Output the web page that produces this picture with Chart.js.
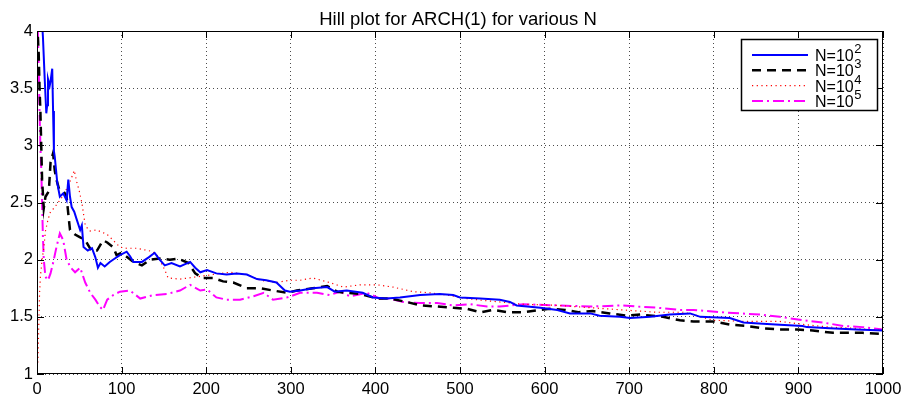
<!DOCTYPE html>
<html>
<head>
<meta charset="utf-8">
<title>Hill plot for ARCH(1)</title>
<script src="https://cdn.jsdelivr.net/npm/chart.js@4.4.1/dist/chart.umd.min.js"></script>
<style>
  html, body { margin: 0; padding: 0; background: #fff; }
  #hill { display: block; }
</style>
</head>
<body>
<canvas id="hill" width="910" height="399"></canvas>
<script>
// values (k = number of order statistics)
const seriesNames = ['N=10^2', 'N=10^3', 'N=10^4', 'N=10^5'];

const kN2 = [2,5,7,9,11,12,13,15,16,18,19,20,21,24,27,31,35,37,39,41,44,47,51,53,55,60,65,69,72,75,80,86,92,98,106,110,114,124,132,139,145,151,159,169,181,187,193,201,212,224,236,248,260,271,283,293,299,311,326,343,352,366,385,397,413,429,453,476,492,500,524,547,559,567,595,615,630,654,665,689,701,725,748,772,784,819,835,858,878,905,910,937,969,1000];
const hillN2 = [4.4,4.2,3.95,3.6,3.28,3.35,3.58,3.52,3.56,3.67,3.3,2.95,2.9,2.67,2.55,2.58,2.52,2.70,2.55,2.46,2.42,2.35,2.26,2.30,2.11,2.08,2.10,2.02,1.93,1.97,1.94,1.98,2.01,2.04,2.07,2.03,1.98,1.98,2.02,2.06,2.0,1.95,1.97,1.94,1.98,1.93,1.89,1.91,1.88,1.87,1.88,1.87,1.83,1.82,1.80,1.73,1.72,1.73,1.75,1.76,1.72,1.73,1.71,1.67,1.66,1.67,1.69,1.70,1.69,1.67,1.66,1.65,1.63,1.60,1.58,1.56,1.53,1.53,1.51,1.50,1.49,1.50,1.52,1.53,1.50,1.49,1.45,1.44,1.43,1.42,1.41,1.40,1.39,1.38];

const kN3 = [1,2,3,4,5,6,8,10,14,16,19,21,23,26,30,33,35,37,39,45,50,57,65,71,78,83,90,94,100,114,124,134,145,157,167,179,187,196,208,220,232,248,264,279,296,307,326,343,355,366,382,402,417,437,453,473,492,508,524,539,557,575,595,606,624,640,657,677,697,713,740,760,776,799,821,839,858,878,898,917,941,957,976,1000];
const hillN3 = [3.95,3.8,3.5,3.3,3.0,2.7,2.45,2.55,2.6,2.85,2.93,2.78,2.7,2.62,2.61,2.58,2.55,2.4,2.26,2.22,2.2,2.17,2.07,2.08,2.17,2.15,2.11,2.04,2.06,1.98,1.95,2.00,2.01,2.0,2.01,1.97,1.88,1.84,1.84,1.81,1.80,1.75,1.75,1.73,1.71,1.73,1.75,1.77,1.72,1.71,1.70,1.66,1.66,1.63,1.60,1.59,1.58,1.57,1.54,1.56,1.54,1.54,1.56,1.57,1.56,1.54,1.55,1.53,1.51,1.52,1.50,1.47,1.46,1.46,1.43,1.42,1.40,1.39,1.39,1.38,1.36,1.36,1.36,1.35];

const kN4 = [1,2,3,4,6,8,10,13,16,20,25,30,35,40,44,47,50,53,57,62,70,77,83,90,98,106,118,131,137,143,151,155,169,189,208,228,248,264,283,299,311,326,346,362,382,402,421,445,465,485,508,532,547,575,615,654,693,733,764,780,799,839,878,910,937,965,1000];
const hillN4 = [1.1,1.4,1.7,1.85,2.0,2.1,2.25,2.35,2.42,2.45,2.5,2.55,2.62,2.7,2.78,2.68,2.6,2.5,2.3,2.25,2.26,2.24,2.22,2.17,2.11,2.10,2.10,2.08,2.07,2.03,1.91,1.84,1.83,1.85,1.87,1.89,1.87,1.82,1.80,1.82,1.82,1.84,1.80,1.76,1.78,1.78,1.76,1.72,1.71,1.69,1.66,1.64,1.63,1.61,1.60,1.58,1.56,1.54,1.54,1.51,1.47,1.46,1.46,1.43,1.41,1.40,1.38];

const kN5 = [1,2,3,4,5,6,7,8,10,13,16,19,23,27,31,35,40,45,51,57,63,69,74,78,83,90,98,110,122,137,154,169,181,193,201,212,224,240,256,268,279,296,311,331,346,358,370,390,405,417,433,453,473,492,512,532,547,575,615,654,693,709,733,760,776,810,831,855,878,905,929,953,976,1000];
const hillN5 = [4.0,3.7,3.3,3.0,2.8,2.5,2.2,2.0,1.85,1.82,1.88,1.97,2.11,2.23,2.17,2.0,1.93,1.89,1.93,1.80,1.71,1.65,1.59,1.56,1.65,1.69,1.72,1.73,1.66,1.69,1.70,1.73,1.78,1.73,1.74,1.67,1.65,1.65,1.68,1.71,1.65,1.67,1.71,1.71,1.69,1.72,1.68,1.71,1.66,1.66,1.63,1.62,1.62,1.60,1.61,1.59,1.59,1.61,1.60,1.59,1.60,1.59,1.58,1.56,1.56,1.54,1.53,1.52,1.50,1.47,1.45,1.42,1.41,1.39];

const xTicks = [0,100,200,300,400,500,600,700,800,900,1000];
const yTicks = [1,1.5,2,2.5,3,3.5,4];

const FONT = '"Liberation Sans", Arial, Helvetica, sans-serif';

function pts(ks, vs) {
    return ks.map((k, i) => ({ x: k, y: vs[i] }));
}

// matlab style box, inward ticks, title and legend with superscripts
const matlabBits = {
    id: 'matlabBits',
    afterDraw(chart) {
        const ctx = chart.ctx;
        const a = chart.chartArea;
        const xs = chart.scales.x, ys = chart.scales.y;
        ctx.save();
        ctx.strokeStyle = '#000';
        ctx.lineWidth = 1;
        ctx.setLineDash([]);
        ctx.strokeRect(a.left + 0.5, a.top + 0.5, a.right - a.left - 1, a.bottom - a.top - 1);
        ctx.beginPath();
        xTicks.forEach(v => {
            const px = Math.round(xs.getPixelForValue(v)) + 0.5;
            ctx.moveTo(px, a.bottom); ctx.lineTo(px, a.bottom - 7);
            ctx.moveTo(px, a.top); ctx.lineTo(px, a.top + 7);
        });
        yTicks.forEach(v => {
            const py = Math.round(ys.getPixelForValue(v)) + 0.5;
            ctx.moveTo(a.left, py); ctx.lineTo(a.left + 7, py);
            ctx.moveTo(a.right, py); ctx.lineTo(a.right - 7, py);
        });
        ctx.stroke();

        // title
        ctx.fillStyle = '#000';
        ctx.font = '18.5px ' + FONT;
        ctx.textAlign = 'center';
        ctx.textBaseline = 'alphabetic';
        ctx.fillText('Hill plot for ARCH(1) for various N', 458, 25);

        // legend
        const bx = 741, by = 39, bw = 136, bh = 71;
        ctx.fillStyle = '#fff';
        ctx.fillRect(bx, by, bw, bh);
        ctx.strokeStyle = '#000';
        ctx.lineWidth = 1.5;
        ctx.strokeRect(bx + 0.5, by + 0.5, bw, bh);
        chart.data.datasets.forEach((ds, i) => {
            const ry = 55 + i * 15.3;
            ctx.save();
            ctx.strokeStyle = ds.borderColor;
            ctx.lineWidth = ds.borderWidth;
            ctx.setLineDash(ds.borderDash || []);
            ctx.beginPath();
            ctx.moveTo(752, ry);
            ctx.lineTo(808, ry);
            ctx.stroke();
            ctx.restore();
            const parts = ds.label.split('^');
            ctx.fillStyle = '#000';
            ctx.textAlign = 'left';
            ctx.font = '16px ' + FONT;
            ctx.fillText(parts[0], 815, ry + 6);
            const w = ctx.measureText(parts[0]).width;
            ctx.font = '13px ' + FONT;
            ctx.fillText(parts[1], 815 + w + 0.5, ry - 2);
        });
        ctx.restore();
    }
};

const ctx = document.getElementById('hill').getContext('2d');

new Chart(ctx, {
    type: 'line',
    data: {
        datasets: [
            { label: seriesNames[0], data: pts(kN2, hillN2), borderColor: '#0000ff', borderWidth: 2, borderDash: [] },
            { label: seriesNames[1], data: pts(kN3, hillN3), borderColor: '#000000', borderWidth: 2.5, borderDash: [9, 6] },
            { label: seriesNames[2], data: pts(kN4, hillN4), borderColor: '#ff0000', borderWidth: 1.2, borderDash: [1.2, 3.5] },
            { label: seriesNames[3], data: pts(kN5, hillN5), borderColor: '#ff00ff', borderWidth: 2, borderDash: [11, 4, 2, 4] }
        ]
    },
    options: {
        responsive: false,
        animation: false,
        devicePixelRatio: 1,
        events: [],
        elements: {
            point: { radius: 0 },
            line: { tension: 0, fill: false }
        },
        layout: {
            padding: { top: 31, right: 27, left: 0, bottom: 0 }
        },
        plugins: {
            legend: { display: false },
            title: { display: false },
            tooltip: { enabled: false }
        },
        scales: {
            x: {
                type: 'linear',
                min: 0,
                max: 1000,
                afterFit: s => { s.height = 25; },
                afterBuildTicks: s => { s.ticks = xTicks.map(v => ({ value: v })); },
                grid: { color: 'rgba(0,0,0,0.7)', lineWidth: 1, drawTicks: false },
                border: { display: false, dash: [1, 3] },
                ticks: {
                    padding: 6,
                    color: '#000',
                    font: { family: FONT, size: 16.5 },
                    maxRotation: 0,
                    callback: v => String(v)
                }
            },
            y: {
                type: 'linear',
                min: 1,
                max: 4,
                afterFit: s => { s.width = 37; },
                afterBuildTicks: s => { s.ticks = yTicks.map(v => ({ value: v })); },
                grid: { color: 'rgba(0,0,0,0.7)', lineWidth: 1, drawTicks: false },
                border: { display: false, dash: [1, 3] },
                ticks: {
                    padding: 4,
                    color: '#000',
                    font: { family: FONT, size: 16.5 },
                    callback: v => String(v)
                }
            }
        }
    },
    plugins: [matlabBits]
});
</script>
</body>
</html>
